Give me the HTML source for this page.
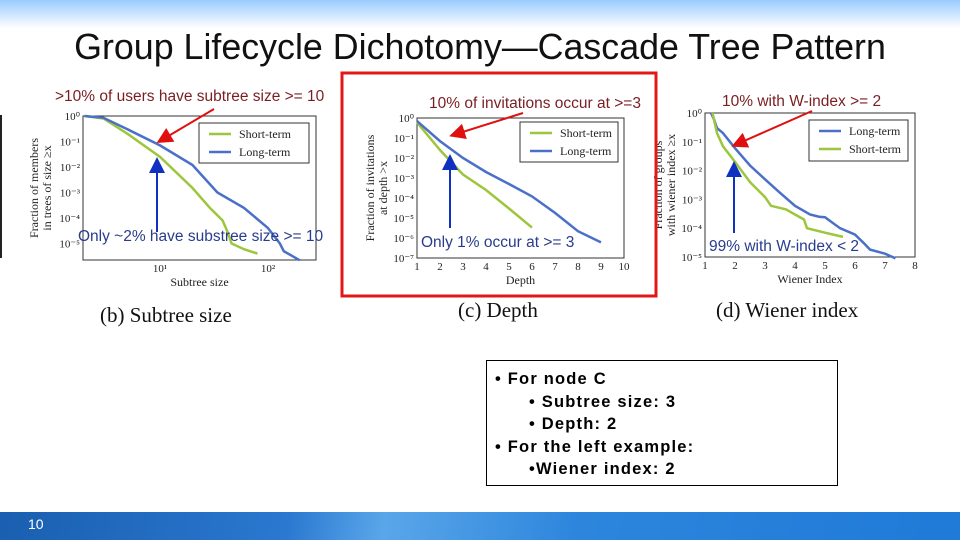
<!DOCTYPE html>
<html><head><meta charset="utf-8"><style>
body{margin:0;width:960px;height:540px;overflow:hidden;background:#fff;position:relative;font-family:"Liberation Sans",sans-serif}
#hdr{position:absolute;left:0;top:0;width:960px;height:28px;background:linear-gradient(#99ccff,#fff)}
#ftr{position:absolute;left:0;top:512px;width:960px;height:28px;background:linear-gradient(100deg,#1a5fb0 0%,#2a78d0 30%,#5aa6ea 40%,#2d86dc 60%,#1f7ad8 100%)}
#pg{position:absolute;left:28px;top:516px;color:#fff;font-size:14px}
#title{position:absolute;left:0;width:960px;top:27px;text-align:center;font-size:35.8px;color:#111}
#box{position:absolute;left:486px;top:360px;width:352px;border:1px solid #000;font-weight:bold;font-size:16.5px;letter-spacing:1.2px;line-height:22.5px;padding-top:7px;box-sizing:border-box;height:126px}
#box div{white-space:pre}
svg{position:absolute;left:0;top:0}
</style></head><body>
<div id="hdr"></div>
<div id="title">Group Lifecycle Dichotomy—Cascade Tree Pattern</div>
<div id="box">
<div style="padding-left:8px">• For node C</div>
<div style="padding-left:42px">• Subtree size: 3</div>
<div style="padding-left:42px">• Depth: 2</div>
<div style="padding-left:8px">• For the left example:</div>
<div style="padding-left:42px">•Wiener index: 2</div>
</div>
<div id="ftr"></div>
<div id="pg">10</div>
<svg id="s" width="960" height="540"></svg>
<script>
// Chart (b) subtree size
const bLongX=[2,3,5,10,20,34,60,100,129,140,197];
const bLongY=[1,0.85,0.3,0.07,0.012,0.001,0.00025,0.00004,0.00001,0.000005,0.0000022];
const bShortX=[2,3,5,10,20,29,38,42,46,60,80];
const bShortY=[1,0.8,0.2,0.025,0.0015,0.00025,0.00008,0.00003,0.00001,0.000006,0.000004];
const bYTicks=["10⁰","10⁻¹","10⁻²","10⁻³","10⁻⁴","10⁻⁵"];
const bXTicks=[10,100];
const bXLabels=["10¹","10²"];
// Chart (c) depth
const cLongX=[1,2,3,4,5,6,7,8,9];
const cLongY=[0.7,0.07,0.01,0.002,0.0005,0.00012,0.000018,0.0000022,0.0000006];
const cShortX=[1,2,3,4,5,6];
const cShortY=[0.6,0.025,0.0015,0.00025,0.00003,0.0000033];
const cYTicks=["10⁰","10⁻¹","10⁻²","10⁻³","10⁻⁴","10⁻⁵","10⁻⁶","10⁻⁷"];
const cXTicks=[1,2,3,4,5,6,7,8,9,10];
// Chart (d) wiener index
const dLongX=[1.2,1.3,1.4,1.6,2,2.5,3,3.5,4,4.5,4.8,5,5.5,6,6.3,6.5,7,7.35];
const dLongY=[1,0.6,0.3,0.2,0.06,0.015,0.005,0.0017,0.0006,0.0003,0.00025,0.00024,0.0001,0.00006,0.00003,0.000018,0.000013,0.000009];
const dShortX=[1.25,1.4,1.6,2,2.5,3,3.2,3.7,4,4.3,4.4,5,5.6];
const dShortY=[1,0.2,0.07,0.02,0.004,0.0012,0.0006,0.00045,0.0003,0.0002,0.0001,0.00007,0.00005];
const dYTicks=["10⁰","10⁻¹","10⁻²","10⁻³","10⁻⁴","10⁻⁵"];
const dXTicks=[1,2,3,4,5,6,7,8];

const NS="http://www.w3.org/2000/svg";
const svg=document.getElementById('s');
function mk(tag,attrs,parent,txt){const e=document.createElementNS(NS,tag);for(const k in attrs)e.setAttribute(k,attrs[k]);if(txt!==undefined)e.textContent=txt;(parent||svg).appendChild(e);return e;}
function chart(id,o){
  const g=mk('g',{});
  
  
  const xs=o.xs, ys=o.ys;
  const fr=mk('rect',{x:o.x0,y:o.y0,width:o.x1-o.x0,height:o.y1-o.y0,fill:'none',stroke:'#333','stroke-width':1},g);
  
  
  o.yt.forEach((t,i)=>{const y=ys(Math.pow(10,-i));
    const e=mk('text',{x:o.x0-3,y:y+4,'text-anchor':'end','font-family':'Liberation Serif,serif','font-size':11,fill:'#222'},g,t);
    
    });
  o.xt.forEach((v,i)=>{const x=xs(v);
    const e=mk('text',{x:x,y:o.y1+12,'text-anchor':'middle','font-family':'Liberation Serif,serif','font-size':11,fill:'#222'},g,o.xl?o.xl[i]:String(v));
    
    });
  const xt=mk('text',{x:(o.x0+o.x1)/2,y:o.y1+26,'text-anchor':'middle','font-family':'Liberation Serif,serif','font-size':12,fill:'#222'},g,o.xtitle);
  
  
  const yl=o.ytitle;
  yl.forEach((l,i)=>{const cx=o.ytx+i*13, cy=(o.y0+o.y1)/2;
    const e=mk('text',{x:cx,y:cy,'text-anchor':'middle','font-family':'Liberation Serif,serif','font-size':12,fill:'#222',transform:`rotate(-90 ${cx} ${cy})`},g,l);
    
    });
  o.series.forEach(s=>{
    const d=s.x.map((v,i)=>(i?'L':'M')+xs(v).toFixed(1)+','+ys(s.y[i]).toFixed(1)).join('');
    const p=mk('path',{d:d,fill:'none',stroke:s.c,'stroke-width':2.5},g);
    
    });
  const L=o.leg;
  const lr=mk('rect',{x:L[0],y:L[1],width:L[2],height:L[3],fill:'#fff',stroke:'#333','stroke-width':1},g);
  
  
  o.legItems.forEach((it,i)=>{const y=L[1]+11+i*18;
    const ln=mk('line',{x1:L[0]+10,x2:L[0]+32,y1:y,y2:y,stroke:it[1],'stroke-width':2.5},g);
    
    
    const t=mk('text',{x:L[0]+40,y:y+4,'font-family':'Liberation Serif,serif','font-size':12,fill:'#222'},g,it[0]);
    
    });
}
const G='#9dc63d',B='#4a70c8';
// b
{const x0=83,x1=316,y0=116,y1=260;
 chart('chart-subtree-size',{x0,x1,y0,y1,
  xs:v=>160+(Math.log10(v)-1)*108, ys:v=>116-Math.log10(v)*25.5,
  yt:bYTicks,xt:bXTicks,xl:bXLabels,xtitle:'Subtree size',ytitle:['Fraction of members','in trees of size ≥x'],ytx:38,
  series:[{x:bShortX,y:bShortY,c:G,n:'short-term-line'},{x:bLongX,y:bLongY,c:B,n:'long-term-line'}],
  leg:[199,123,110,40],legItems:[['Short-term',G],['Long-term',B]]});}
// c
chart('chart-depth',{x0:417,x1:624,y0:118,y1:258,
  xs:v=>417+(v-1)*23, ys:v=>118-Math.log10(v)*20,
  yt:cYTicks,xt:cXTicks,xtitle:'Depth',ytitle:['Fraction of invitations','at depth >x'],ytx:374,
  series:[{x:cShortX,y:cShortY,c:G,n:'short-term-line'},{x:cLongX,y:cLongY,c:B,n:'long-term-line'}],
  leg:[520,122,98,40],legItems:[['Short-term',G],['Long-term',B]]});
// d
chart('chart-wiener-index',{x0:705,x1:915,y0:113,y1:257,
  xs:v=>705+(v-1)*30, ys:v=>113-Math.log10(v)*28.8,
  yt:dYTicks,xt:dXTicks,xtitle:'Wiener Index',ytitle:['Fraction of groups','with wiener index ≥x'],ytx:662,
  series:[{x:dLongX,y:dLongY,c:B,n:'long-term-line'},{x:dShortX,y:dShortY,c:G,n:'short-term-line'}],
  leg:[809,120,99,41],legItems:[['Long-term',B],['Short-term',G]]});
</script>
<svg width="960" height="540" style="position:absolute;left:0;top:0">
<defs>
<marker id="ar" markerWidth="8" markerHeight="8" refX="6" refY="4" orient="auto"><path d="M0,0L8,4L0,8z" fill="#e01010"/></marker>
<marker id="ab" markerWidth="8" markerHeight="8" refX="6" refY="4" orient="auto"><path d="M0,0L8,4L0,8z" fill="#1030c0"/></marker>
</defs>
<rect x="342" y="73" width="314" height="223" fill="none" stroke="#e01818" stroke-width="3"/>
<line x1="214" y1="109" x2="160" y2="141" stroke="#e01010" stroke-width="2" marker-end="url(#ar)"/>
<line x1="157" y1="232" x2="157" y2="161" stroke="#1030c0" stroke-width="2" marker-end="url(#ab)"/>
<line x1="523" y1="113" x2="453" y2="135" stroke="#e01010" stroke-width="2" marker-end="url(#ar)"/>
<line x1="450" y1="228" x2="450" y2="158" stroke="#1030c0" stroke-width="2" marker-end="url(#ab)"/>
<line x1="812" y1="111" x2="735" y2="145" stroke="#e01010" stroke-width="2" marker-end="url(#ar)"/>
<line x1="734" y1="233" x2="734" y2="165" stroke="#1030c0" stroke-width="2" marker-end="url(#ab)"/>
<g font-family="Liberation Sans,sans-serif" font-size="15.5">
<text x="55" y="101" fill="#7a1e22">&gt;10% of users have subtree size &gt;= 10</text>
<text x="78" y="241" fill="#283c8c">Only ~2% have substree size &gt;= 10</text>
<text x="429" y="108" fill="#7a1e22">10% of invitations occur at &gt;=3</text>
<text x="421" y="247" fill="#283c8c">Only 1% occur at &gt;= 3</text>
<text x="722" y="106" fill="#7a1e22">10% with W-index &gt;= 2</text>
<text x="709" y="251" fill="#283c8c">99% with W-index &lt; 2</text>
</g>
<g font-family="Liberation Serif,serif" font-size="21" fill="#111">
<text x="100" y="322">(b)  Subtree size</text>
<text x="458" y="317">(c)  Depth</text>
<text x="716" y="317">(d)  Wiener index</text>
</g>
<line x1="1" y1="115" x2="1" y2="258" stroke="#222" stroke-width="2"/>
</svg>
</body></html>
